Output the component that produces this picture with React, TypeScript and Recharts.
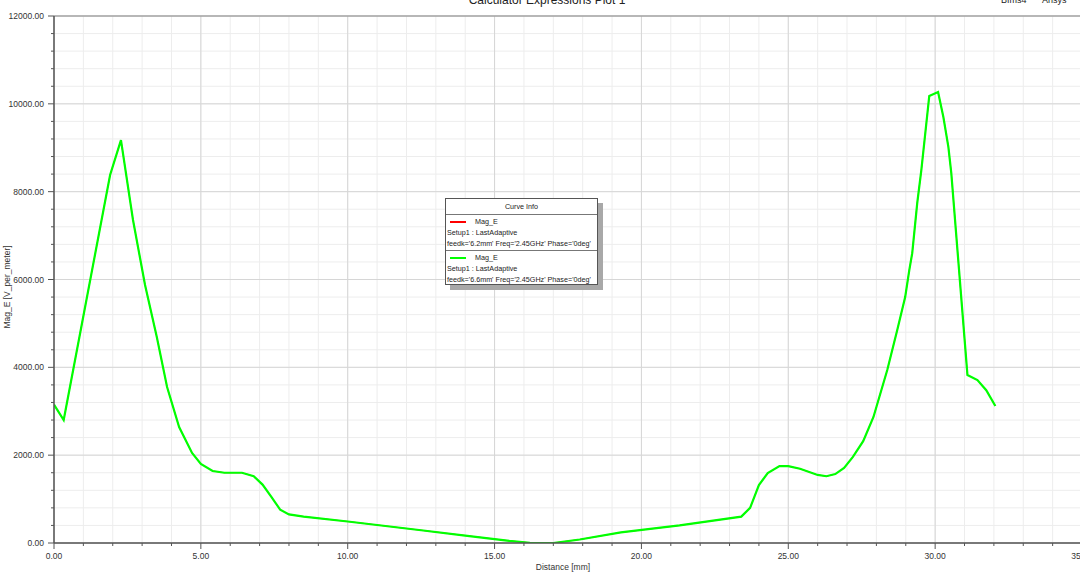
import React from "react";
import { LineChart, Line, XAxis, YAxis, CartesianGrid, ReferenceLine } from "recharts";

const distanceMm = [0, 0.33, 1.91, 2.28, 2.69, 3.1, 3.5, 3.85, 4.26, 4.7, 5.0, 5.4, 5.8, 6.4, 6.8, 7.1, 7.4, 7.7, 8.0, 8.5, 10.0, 12.5, 14.0, 15.5, 16.2, 17.0, 17.9, 19.3, 21.3, 23.4, 23.7, 24.0, 24.3, 24.7, 25.0, 25.4, 26.0, 26.3, 26.6, 26.9, 27.2, 27.55, 27.9, 28.37, 28.71, 28.98, 29.12, 29.22, 29.39, 29.53, 29.8, 30.1, 30.28, 30.45, 30.55, 31.1, 31.44, 31.74, 32.05];
const magE66 = [3150, 2800, 8380, 9175, 7354, 5874, 4690, 3550, 2640, 2050, 1800, 1640, 1600, 1600, 1520, 1330, 1050, 760, 650, 600, 490, 290, 170, 50, 5, 0, 80, 240, 400, 600, 800, 1320, 1590, 1750, 1750, 1690, 1550, 1520, 1570, 1710, 1960, 2320, 2870, 3940, 4850, 5600, 6215, 6600, 7740, 8490, 10180, 10270, 9700, 9020, 8420, 3825, 3710, 3480, 3120];
const magE62 = magE66;

const xTicks = Array.from({ length: 36 }, (_, i) => i);
const yTicks = Array.from({ length: 31 }, (_, i) => i * 400);
const xMajor = [0, 5, 10, 15, 20, 25, 30, 35];
const yMajor = [0, 2000, 4000, 6000, 8000, 10000, 12000];

const data = distanceMm.map((x, i) => ({ x, r: magE62[i], g: magE66[i] }));

const FONT = "'Liberation Sans', Arial, sans-serif";

const YTick = (props: any) => {
  const { x, y, payload } = props;
  const v = payload.value;
  const major = v % 2000 === 0;
  return (
    <g>
      <line x1={x - (major ? 6 : 3)} x2={x} y1={y} y2={y} stroke="#555" strokeWidth={1} />
      {major && (
        <text x={x - 10} y={y + 3} textAnchor="end" fontSize={8.5} fill="#333" fontFamily={FONT}>
          {v.toFixed(2)}
        </text>
      )}
    </g>
  );
};

const XTick = (props: any) => {
  const { x, y, payload } = props;
  const v = payload.value;
  const major = v % 5 === 0;
  return (
    <g>
      <line x1={x} x2={x} y1={y} y2={y + (major ? 6 : 3)} stroke="#555" strokeWidth={1} />
      {major && (
        <text x={x} y={y + 16} textAnchor="middle" fontSize={8.5} fill="#333" fontFamily={FONT}>
          {v.toFixed(2)}
        </text>
      )}
    </g>
  );
};

const legendRow: React.CSSProperties = { whiteSpace: "nowrap", height: 11 };

export default function App() {
  return (
    <div style={{ position: "absolute", left: 0, top: 0, width: 1080, height: 576, overflow: "hidden", background: "#fff", fontFamily: FONT }}>
      <LineChart width={1090} height={576} data={data} margin={{ top: 16, right: 8, bottom: 0, left: 0 }}>
        <CartesianGrid stroke="#ededed" strokeWidth={1} />
        {xMajor.map((v) => (
          <ReferenceLine key={"vx" + v} x={v} stroke="#d6d6d6" strokeWidth={1} />
        ))}
        {yMajor.map((v) => (
          <ReferenceLine key={"hy" + v} y={v} stroke="#d6d6d6" strokeWidth={1} />
        ))}
        <ReferenceLine y={12000} stroke="#888" strokeWidth={1} />
        <XAxis
          type="number"
          dataKey="x"
          domain={[0, 35]}
          ticks={xTicks}
          interval={0}
          tick={<XTick />}
          tickLine={false}
          tickSize={0}
          tickMargin={0}
          height={33}
          axisLine={{ stroke: "#555", strokeWidth: 1.5 }}
          allowDataOverflow
        />
        <YAxis
          type="number"
          domain={[0, 12000]}
          ticks={yTicks}
          interval={0}
          tick={<YTick />}
          tickLine={false}
          tickSize={0}
          tickMargin={0}
          width={54}
          axisLine={{ stroke: "#555", strokeWidth: 1.5 }}
          allowDataOverflow
        />
        <Line type="linear" dataKey="r" stroke="#ff0000" strokeWidth={1} dot={false} isAnimationActive={false} />
        <Line type="linear" dataKey="g" stroke="#00ff00" strokeWidth={2.2} dot={false} isAnimationActive={false} />
      </LineChart>

      <div style={{ position: "absolute", left: 0, top: -7, width: 1094, textAlign: "center", fontSize: 12, color: "#222", whiteSpace: "nowrap" }}>
        Calculator Expressions Plot 1
      </div>
      <div style={{ position: "absolute", left: 1001, top: -5, fontSize: 9, color: "#222", whiteSpace: "nowrap" }}>
        Bfms4
      </div>
      <div style={{ position: "absolute", left: 1042, top: -5, fontSize: 9, color: "#222", whiteSpace: "nowrap" }}>
        Ansys
      </div>
      <div style={{ position: "absolute", left: 0, top: 562, width: 1126, textAlign: "center", fontSize: 8.5, color: "#333", whiteSpace: "nowrap" }}>
        Distance [mm]
      </div>
      <div style={{ position: "absolute", left: 7, top: 287, width: 0, height: 0 }}>
        <div style={{ position: "absolute", transform: "translate(-50%, -50%) rotate(-90deg)", fontSize: 8.5, color: "#333", whiteSpace: "nowrap" }}>
          Mag_E [V_per_meter]
        </div>
      </div>

      <div style={{ position: "absolute", left: 445, top: 198, width: 151, height: 85, border: "1px solid #555", background: "#fff", boxShadow: "5px 5px 0 #a8a8a8", fontSize: 7.2, color: "#222", lineHeight: "11px", overflow: "hidden" }}>
        <div style={{ textAlign: "center", height: 15, lineHeight: "15px", borderBottom: "1px solid #777", whiteSpace: "nowrap" }}>Curve Info</div>
        <div style={{ padding: "1px 0 0 1px", height: 34, borderBottom: "1px solid #777" }}>
          <div style={{ ...legendRow, display: "flex", alignItems: "center" }}>
            <span style={{ display: "inline-block", width: 16, height: 2, background: "#ff0000", marginLeft: 3, marginRight: 9 }} />
            Mag_E
          </div>
          <div style={legendRow}>Setup1 : LastAdaptive</div>
          <div style={legendRow}>feedk='6.2mm' Freq='2.45GHz' Phase='0deg'</div>
        </div>
        <div style={{ padding: "1px 0 0 1px" }}>
          <div style={{ ...legendRow, display: "flex", alignItems: "center" }}>
            <span style={{ display: "inline-block", width: 16, height: 2, background: "#00ff00", marginLeft: 3, marginRight: 9 }} />
            Mag_E
          </div>
          <div style={legendRow}>Setup1 : LastAdaptive</div>
          <div style={legendRow}>feedk='6.6mm' Freq='2.45GHz' Phase='0deg'</div>
        </div>
      </div>
    </div>
  );
}
